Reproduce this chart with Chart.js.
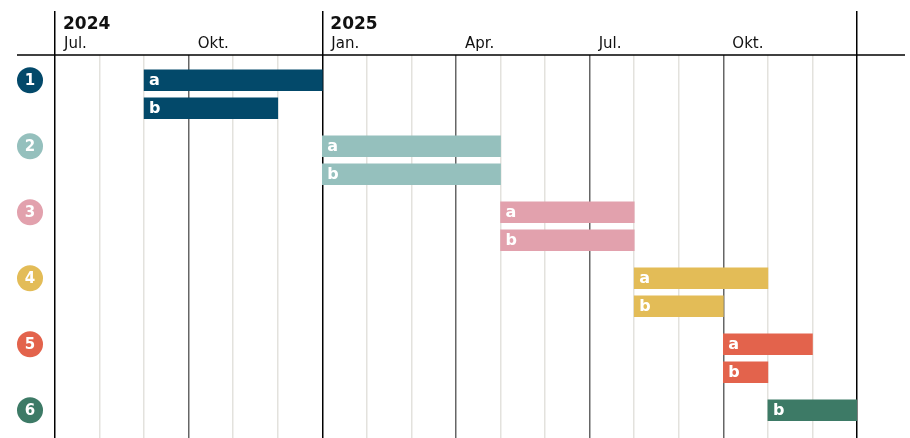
<!DOCTYPE html>
<html>
<head>
<meta charset="utf-8">
<script src="https://cdn.jsdelivr.net/npm/chart.js@4"></script>
<style>
  body { margin: 0; background: #fff; }
  #wrap { width: 910px; height: 438px; }
</style>
</head>
<body>
<div id="wrap"><canvas id="ganttChart"></canvas></div>
<script>
// timeline data
const firstMonth = '2024-07';
const lastMonth = '2026-01';

const groups = ['1', '2', '3', '4', '5', '6'];
const groupColors = ['#03496a', '#95c0bd', '#e2a1ad', '#e3bc57', '#e3634c', '#3d7a66'];

const barGroup = [1, 1, 2, 2, 3, 3, 4, 4, 5, 5, 6];
const barLabels = ['a', 'b', 'a', 'b', 'a', 'b', 'a', 'b', 'a', 'b', 'b'];
const barStart = ['2024-09', '2024-09', '2025-01', '2025-01', '2025-05', '2025-05', '2025-08', '2025-08', '2025-10', '2025-10', '2025-11'];
const barEnd = ['2025-01', '2024-12', '2025-05', '2025-05', '2025-08', '2025-08', '2025-11', '2025-10', '2025-12', '2025-11', '2026-01'];

const quarterLabels = ['Jul.', 'Okt.', 'Jan.', 'Apr.', 'Jul.', 'Okt.'];
const yearLabels = ['2024', '2025'];
const yearStarts = ['2024-07', '2025-01'];

const FONT = '"DejaVu Sans", "Open Sans", sans-serif';
const ROW_GAP = 28 / 66; // second row inside a group, in group units

function monthIndex(ym) {
    const [y, m] = ym.split('-').map(Number);
    const [y0, m0] = firstMonth.split('-').map(Number);
    return (y - y0) * 12 + (m - m0);
}

function isYearLine(v) {
    return v === 0 || (v + monthIndex(firstMonth) + 7 - 1) % 12 === 0;
}

// build bar points, rows stack inside each group
const slotCount = {};
const barData = barGroup.map((g, i) => {
    const slot = slotCount[g] || 0;
    slotCount[g] = slot + 1;
    return {
        x: [monthIndex(barStart[i]), monthIndex(barEnd[i])],
        y: (g - 1) + slot * ROW_GAP
    };
});

const headerPlugin = {
    id: 'header',
    afterDraw(chart) {
        const ctx = chart.ctx;
        const x = chart.scales.x;
        const y = chart.scales.y;
        const top = chart.chartArea.top;
        ctx.save();

        // horizontal header rule
        ctx.strokeStyle = '#000';
        ctx.lineWidth = 1.5;
        ctx.beginPath();
        ctx.moveTo(17, top);
        ctx.lineTo(905, top);
        ctx.stroke();

        ctx.fillStyle = '#111';
        ctx.textAlign = 'left';
        ctx.textBaseline = 'alphabetic';
        ctx.font = 'bold 17px ' + FONT;
        yearLabels.forEach((lbl, i) => {
            ctx.fillText(lbl, x.getPixelForValue(monthIndex(yearStarts[i])) + 8, 29);
        });
        ctx.font = '15px ' + FONT;
        quarterLabels.forEach((lbl, i) => {
            ctx.fillText(lbl, x.getPixelForValue(i * 3) + 9, 48);
        });

        // group markers
        groups.forEach((g, i) => {
            const cy = y.getPixelForValue(i);
            ctx.fillStyle = groupColors[i];
            ctx.beginPath();
            ctx.arc(30, cy, 13, 0, Math.PI * 2);
            ctx.fill();
            ctx.fillStyle = '#fff';
            ctx.font = 'bold 15px ' + FONT;
            ctx.textAlign = 'center';
            ctx.textBaseline = 'middle';
            ctx.fillText(g, 30, cy + 1);
        });
        ctx.restore();
    },
    afterDatasetsDraw(chart) {
        const ctx = chart.ctx;
        const meta = chart.getDatasetMeta(0);
        ctx.save();
        ctx.fillStyle = '#fff';
        ctx.font = 'bold 16px ' + FONT;
        ctx.textAlign = 'left';
        ctx.textBaseline = 'middle';
        meta.data.forEach((el, i) => {
            ctx.fillText(barLabels[i], Math.min(el.x, el.base) + 5, el.y + 1);
        });
        ctx.restore();
    }
};

const ctx = document.getElementById('ganttChart').getContext('2d');
new Chart(ctx, {
    type: 'bar',
    data: {
        datasets: [{
            data: barData,
            backgroundColor: barGroup.map(g => groupColors[g - 1]),
            borderWidth: 0,
            barThickness: 21
        }]
    },
    options: {
        indexAxis: 'y',
        responsive: true,
        maintainAspectRatio: false,
        animation: false,
        layout: { padding: { left: 55, right: 53, top: 11, bottom: 0 } },
        plugins: { legend: { display: false }, tooltip: { enabled: false } },
        scales: {
            x: {
                type: 'linear',
                min: 0,
                max: monthIndex(lastMonth),
                border: { display: false },
                ticks: { display: false, stepSize: 1 },
                grid: {
                    drawTicks: false,
                    lineWidth: 1.5,
                    color: c => (c.tick.value % 3 === 0 ? 'rgba(0,0,0,0)' : '#e3e2dd')
                }
            },
            x2: {
                type: 'linear',
                position: 'top',
                min: 0,
                max: monthIndex(lastMonth),
                z: 1,
                border: { display: false },
                ticks: { display: false, stepSize: 3 },
                grid: {
                    drawTicks: true,
                    tickLength: 44,
                    lineWidth: 1.5,
                    color: c => (isYearLine(c.tick.value) ? '#000' : 'rgba(0,0,0,0.6)'),
                    tickColor: c => (isYearLine(c.tick.value) ? '#000' : 'rgba(0,0,0,0)')
                }
            },
            y: {
                type: 'linear',
                display: false,
                reverse: true,
                offset: false,
                min: -0.383,
                max: 5.42
            }
        }
    },
    plugins: [headerPlugin]
});
</script>
</body>
</html>
